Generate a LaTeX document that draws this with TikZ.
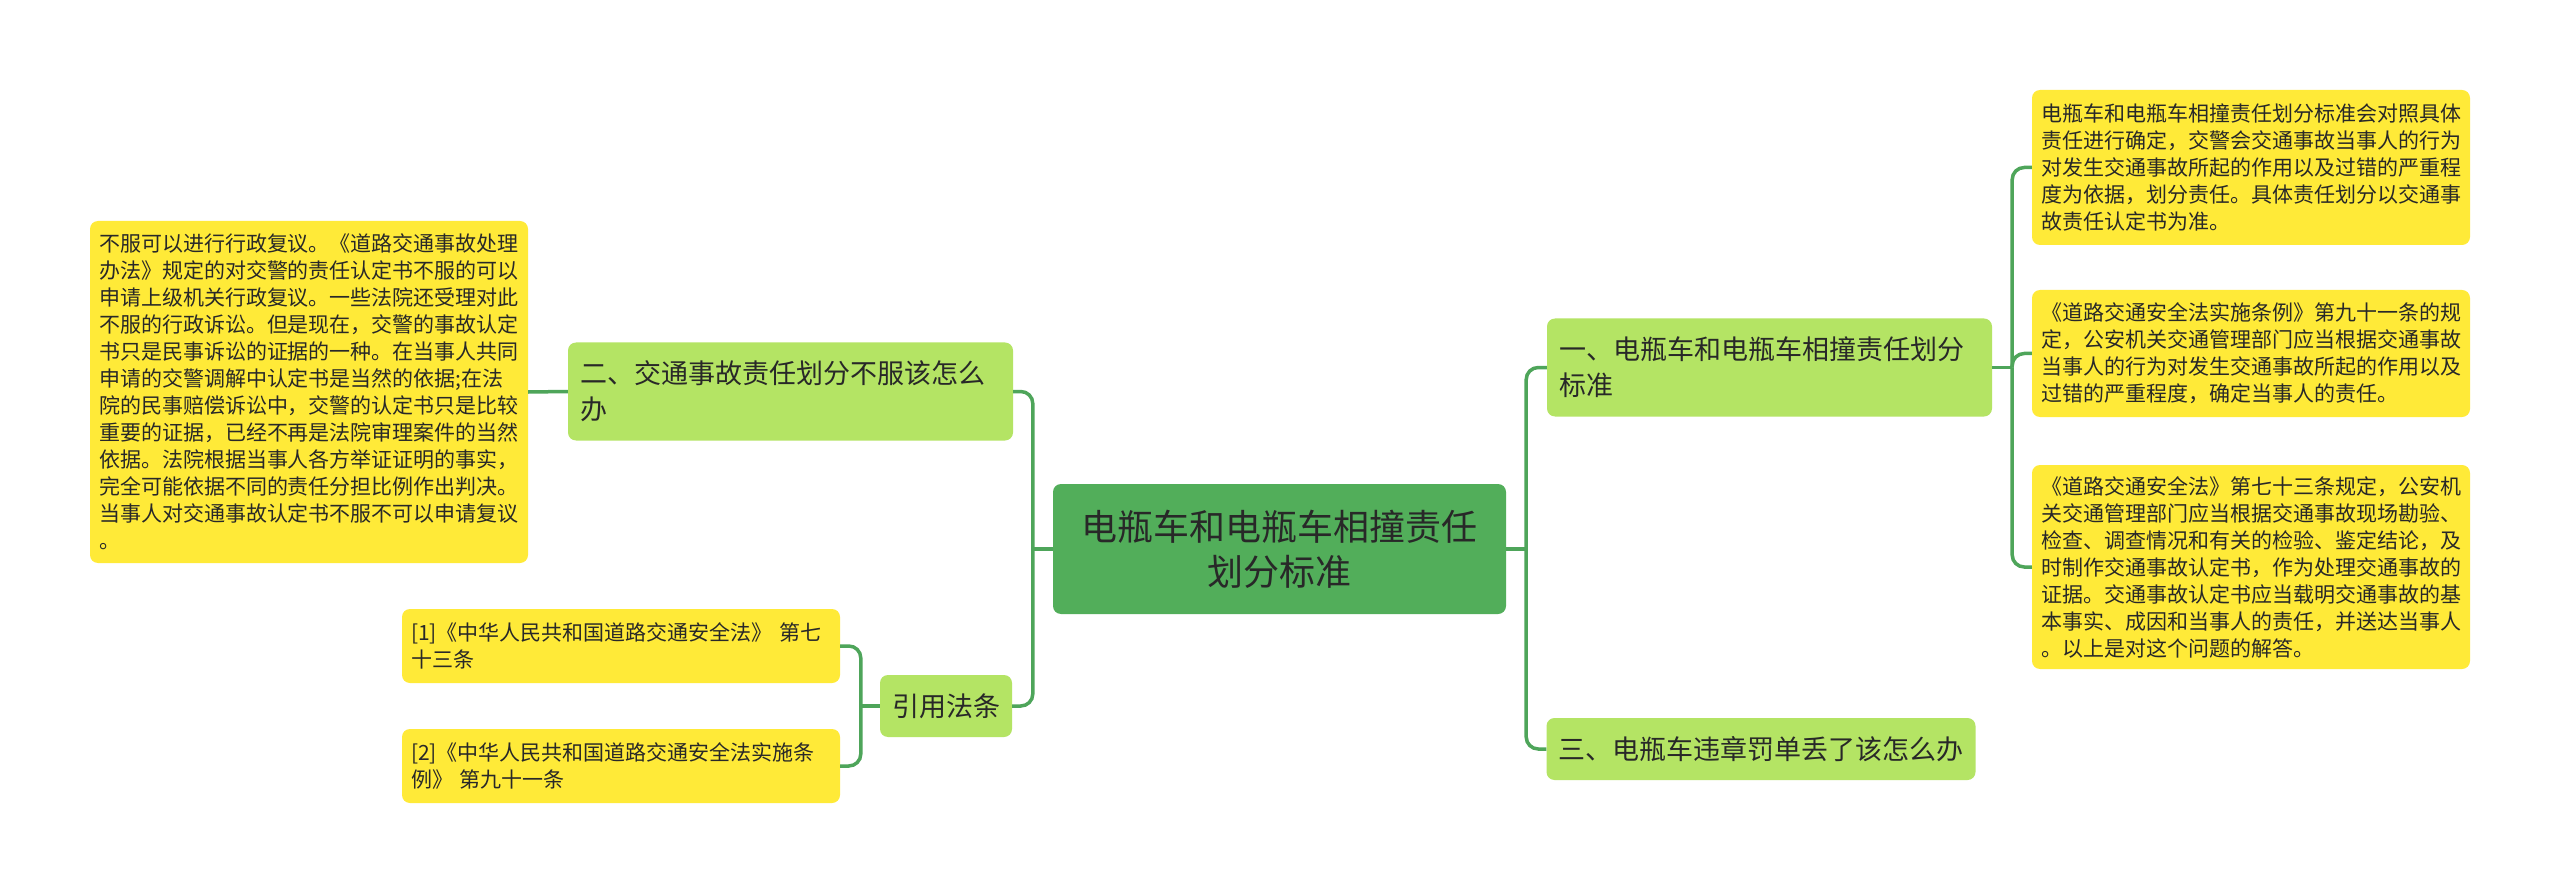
\documentclass[tikz,border=0pt]{standalone}
\usepackage{fontspec}
\setmainfont{Noto Sans CJK SC}
\usepackage{xcolor}
\usepackage{tikz}
\usetikzlibrary{positioning, calc}

\definecolor{rootgreen}{RGB}{82,174,90}
\definecolor{topicgreen}{RGB}{180,228,100}
\definecolor{noteyellow}{RGB}{255,234,56}
\definecolor{linkgreen}{RGB}{78,165,90}
\definecolor{txt}{RGB}{40,40,40}

\begin{document}
\begin{tikzpicture}[x=1pt, y=-1pt]
\tikzset{
  box/.style   ={rounded corners=8pt, text=txt, inner ysep=0pt},
  root/.style  ={box, fill=rootgreen, align=center, inner xsep=12pt,
                 minimum width=453pt, minimum height=130pt,
                 font=\fontsize{36pt}{45pt}\selectfont},
  topic/.style ={box, fill=topicgreen, align=left, inner xsep=12pt,
                 font=\fontsize{27pt}{36pt}\selectfont},
  wide/.style  ={topic, text width=421pt, minimum height=98pt},
  note/.style  ={box, fill=noteyellow, align=left, inner xsep=9pt,
                 text width=420pt,
                 font=\fontsize{21pt}{27pt}\selectfont},
  link/.style  ={draw=linkgreen, line width=3.5pt, rounded corners=12pt}
}

%% ----- canvas -----
\fill[white] (0,0) rectangle (2560,893);
\useasboundingbox (0,0) rectangle (2560,893);

%% ----- Centre -----
\node[root] (root) at (1279.5,549)
  {电瓶车和电瓶车相撞责任\\划分标准};

%% ----- Right topics -----
\node[wide] (t1) at (1769.5,367.5)
  {一、电瓶车和电瓶车相撞责任划分\\标准};
\node[topic, minimum height=62pt] (t3) at (1761,749)
  {三、电瓶车违章罚单丢了该怎么办};

%% ----- Left topics -----
\node[wide] (t2) at (790.5,391.5)
  {二、交通事故责任划分不服该怎么\\办};
\node[topic, minimum height=62pt] (cite) at (946,706) {引用法条};

%% ----- Notes of t1 -----
\node[note, minimum height=155pt] (n1) at (2251,167.5)
  {电瓶车和电瓶车相撞责任划分标准会对照具体\\
   责任进行确定，交警会交通事故当事人的行为\\
   对发生交通事故所起的作用以及过错的严重程\\
   度为依据，划分责任。具体责任划分以交通事\\
   故责任认定书为准。};
\node[note, minimum height=127pt] (n2) at (2251,353.5)
  {《道路交通安全法实施条例》第九十一条的规\\
   定，公安机关交通管理部门应当根据交通事故\\
   当事人的行为对发生交通事故所起的作用以及\\
   过错的严重程度，确定当事人的责任。};
\node[note, minimum height=204pt] (n3) at (2251,567)
  {《道路交通安全法》第七十三条规定，公安机\\
   关交通管理部门应当根据交通事故现场勘验、\\
   检查、调查情况和有关的检验、鉴定结论，及\\
   时制作交通事故认定书，作为处理交通事故的\\
   证据。交通事故认定书应当载明交通事故的基\\
   本事实、成因和当事人的责任，并送达当事人\\
   。以上是对这个问题的解答。};

%% ----- Note of t2 -----
\node[note, minimum height=342pt] (nl) at (309,392)
  {不服可以进行行政复议。《道路交通事故处理\\
   办法》规定的对交警的责任认定书不服的可以\\
   申请上级机关行政复议。一些法院还受理对此\\
   不服的行政诉讼。但是现在，交警的事故认定\\
   书只是民事诉讼的证据的一种。在当事人共同\\
   申请的交警调解中认定书是当然的依据;在法\\
   院的民事赔偿诉讼中，交警的认定书只是比较\\
   重要的证据，已经不再是法院审理案件的当然\\
   依据。法院根据当事人各方举证证明的事实，\\
   完全可能依据不同的责任分担比例作出判决。\\
   当事人对交通事故认定书不服不可以申请复议\\
   。};

%% ----- References -----
\node[note, minimum height=74pt] (r1) at (621,646)
  {[1]《中华人民共和国道路交通安全法》 第七\\十三条};
\node[note, minimum height=74pt] (r2) at (621,766)
  {[2]《中华人民共和国道路交通安全法实施条\\例》 第九十一条};

%% ----- Connectors -----
\coordinate (jr) at ([xshift=20pt]root.east);
\coordinate (jl) at ([xshift=-20pt]root.west);
\coordinate (j1) at ([xshift=20pt]t1.east);
\coordinate (jc) at ([xshift=-19pt]cite.west);

\draw[link] (root.east) -- (jr);
\foreach \t in {t1,t3}
  \draw[link] (jr) |- (\t.west);
\draw[link] (root.west) -- (jl);
\foreach \t in {t2,cite}
  \draw[link] (jl) |- (\t.east);

\draw[link] (t1.east) -- (j1);
\foreach \n in {n1,n2,n3}
  \draw[link] (j1) |- (\n.west);

\draw[link] (t2.west) -- (nl.east);

\draw[link] (cite.west) -- (jc);
\foreach \r in {r1,r2}
  \draw[link] (jc) |- (\r.east);

\end{tikzpicture}
\end{document}
